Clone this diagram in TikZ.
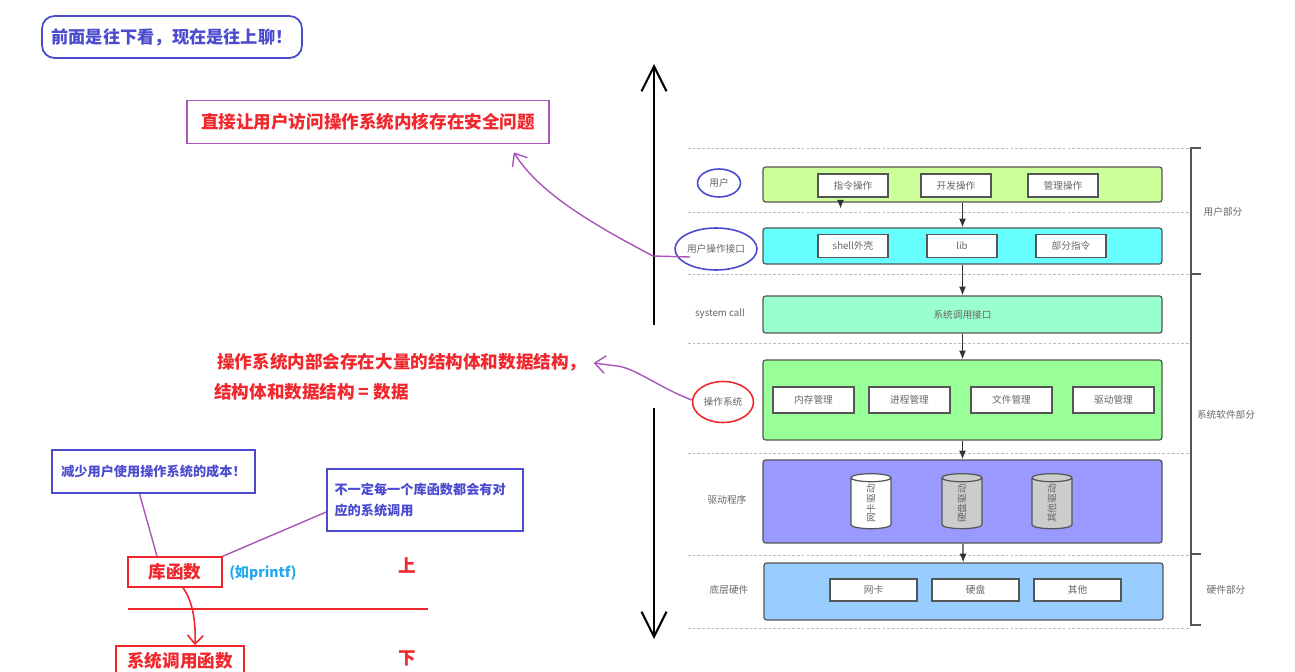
\documentclass[tikz,border=0pt]{standalone}
\usepackage{fontspec}
\setmainfont{Noto Sans CJK SC}
\usetikzlibrary{arrows.meta,shapes.geometric,calc}

\definecolor{capaA}{HTML}{CCFF99}
\definecolor{capaB}{HTML}{66FFFF}
\definecolor{capaC}{HTML}{99FFCC}
\definecolor{capaD}{HTML}{99FF99}
\definecolor{capaE}{HTML}{9999FF}
\definecolor{capaF}{HTML}{99CCFF}
\definecolor{borde}{HTML}{555555}
\definecolor{gris}{HTML}{666666}
\definecolor{azul}{HTML}{4B4BD0}
\definecolor{rojo}{HTML}{F0282D}
\definecolor{lila}{HTML}{AA55BB}
\definecolor{celeste}{HTML}{22A8EE}

\tikzset{
  capa/.style={draw=borde, line width=0.7pt, rounded corners=1.5pt, minimum width=7.98cm, inner sep=0pt, font=\fontsize{5.5}{6}\selectfont, text=gris},
  caja/.style={draw=borde, fill=white, line width=0.7pt, minimum width=1.4cm, minimum height=0.46cm, inner sep=0pt, font=\fontsize{5.5}{6}\selectfont, text=gris},
  lado/.style={font=\fontsize{5.5}{6}\selectfont, text=gris},
  flujo/.style={-{Latex[length=5pt,width=4pt]}, draw=black!80, line width=0.7pt},
  sep/.style={draw=gray!55, dash pattern=on 1.5pt off 1.2pt, line width=0.5pt},
  tambor/.style={cylinder, draw=borde, line width=0.7pt, rotate=90, aspect=0.9, minimum width=0.8cm, minimum height=1.1cm, inner sep=0pt, font=\fontsize{5.5}{6}\selectfont, text=gris},
  nota/.style={font=\fontsize{10}{12}\selectfont\bfseries, text=rojo},
  notaazul/.style={font=\fontsize{7.5}{11.5}\selectfont\bfseries, text=azul, draw=azul, line width=0.9pt, inner sep=0pt},
  lapiz/.style={draw=lila, line width=0.8pt},
  flecha/.style={draw=lila, line width=0.8pt, -{Straight Barb[length=6pt,width=10pt]}},
  grande/.style={draw=black, line width=1.2pt, -{Straight Barb[length=0.5cm,width=0.5cm]}},
  circulo/.style={ellipse, line width=0.9pt, inner sep=0pt, font=\fontsize{5.5}{6}\selectfont, text=gris}
}

\begin{document}
\begin{tikzpicture}[x=0.02cm, y=-0.02cm]
\useasboundingbox (0,0) rectangle (1295,672);

% Caja de arriba
\node[draw=azul, line width=1pt, rounded corners=0.25cm, minimum width=5.2cm, minimum height=0.84cm,
      font=\fontsize{9.8}{12}\selectfont\bfseries, text=azul] (inicio) at (172,37) {前面是往下看，现在是往上聊！};

% Aviso en rojo
\node[draw=lila, line width=1pt, minimum width=7.24cm, minimum height=0.86cm, nota] (aviso) at (368,122) {直接让用户访问操作系统内核存在安全问题};

% Texto de datos
\node[nota, anchor=west, inner sep=0pt] (datosA) at (217,362) {操作系统内部会存在大量的结构体和数据结构，};
\node[nota, anchor=west, inner sep=0pt] (datosB) at (214,392) {结构体和数据结构 = 数据};

% Flecha grande arriba / abajo
\coordinate (arribaA) at (654,325);
\coordinate (arribaB) at (654,64);
\coordinate (abajoA) at (654,408);
\coordinate (abajoB) at (654,639);
\draw[grande] (arribaA) -- (arribaB);
\draw[grande] (abajoA) -- (abajoB);

% Separadores
\foreach \yy in {148,212,274,343,453,555,628}
  \draw[sep] (688,\yy) -- (1190,\yy);

% Llave de la derecha
\draw[draw=borde, line width=0.9pt] (1201,148) -- (1191,148) -- (1191,625) -- (1201,625);
\draw[draw=borde, line width=0.9pt] (1191,274) -- (1201,274);
\draw[draw=borde, line width=0.9pt] (1191,554) -- (1201,554);
\node[lado] (parteU) at (1223,212) {用户部分};
\node[lado] (parteS) at (1226,415) {系统软件部分};
\node[lado] (parteH) at (1226,590) {硬件部分};

% Capas
\node[capa, fill=capaA, minimum height=0.7cm] (L1) at (962.5,184.5) {};
\node[capa, fill=capaB, minimum height=0.72cm] (L2) at (962.5,246) {};
\node[capa, fill=capaC, minimum height=0.74cm] (L3) at (962.5,314.5) {系统调用接口};
\node[capa, fill=capaD, minimum height=1.6cm] (L4) at (962.5,400) {};
\node[capa, fill=capaE, minimum height=1.66cm] (L5) at (962.5,501.5) {};
\node[capa, fill=capaF, minimum height=1.14cm] (L6) at (963.5,591.5) {};

% Cajas internas
\node[caja] (zhiling) at (853,185.5) {指令操作};
\node[caja] (kaifa) at (956,185.5) {开发操作};
\node[caja] (guanli) at (1063,185.5) {管理操作};
\node[caja] (shell) at (853,246) {shell外壳};
\node[caja] (lib) at (962,246) {lib};
\node[caja] (bufen) at (1071,246) {部分指令};
\node[caja, minimum width=1.62cm, minimum height=0.52cm] (neicun) at (813.5,400) {内存管理};
\node[caja, minimum width=1.62cm, minimum height=0.52cm] (jincheng) at (909.5,400) {进程管理};
\node[caja, minimum width=1.62cm, minimum height=0.52cm] (wenjian) at (1011.5,400) {文件管理};
\node[caja, minimum width=1.62cm, minimum height=0.52cm] (qudong) at (1113.5,400) {驱动管理};
\node[caja, minimum width=1.74cm, minimum height=0.44cm] (wangka) at (873.5,590) {网卡};
\node[caja, minimum width=1.74cm, minimum height=0.44cm] (yingpan) at (975.5,590) {硬盘};
\node[caja, minimum width=1.74cm, minimum height=0.44cm] (qita) at (1077.5,590) {其他};

% Cilindros
\node[tambor, fill=white] (cilA) at (871,503.5) {网卡驱动};
\node[tambor, fill=gray!40] (cilB) at (962,503.5) {硬盘驱动};
\node[tambor, fill=gray!40] (cilC) at (1052,503.5) {其他驱动};

% Flechas entre capas
\draw[flujo] (L1) -- (L2);
\draw[flujo] (L2) -- (L3);
\draw[flujo] (L3) -- (L4);
\draw[flujo] (L4) -- (L5);
\draw[flujo] (L5) -- (L6);
\draw[flujo] ($(L1.south)+(-122,0)$) -- ++(0,6);

% Etiquetas de la izquierda
\node[circulo, draw=azul, minimum width=0.86cm, minimum height=0.56cm] (c1) at (719,183) {用户};
\node[circulo, draw=azul, minimum width=1.5cm, minimum height=0.84cm] (c2) at (716,249) {用户操作接口};
\node[lado] (sc) at (720,314) {system call};
\node[circulo, draw=rojo, minimum width=1.22cm, minimum height=0.82cm] (c4) at (723,402) {操作系统};
\node[lado] (qdcx) at (727,500) {驱动程序};
\node[lado] (dcyj) at (729,590) {底层硬件};

% Flechas de lapiz
\draw[flecha] ($(c2.west)+(16,8)$) -- (653,256) .. controls (600,228) and (540,195) .. ($(aviso.south east)+(-36,8)$);
\draw[flecha] ($(c4.west)+(0,-2)$) .. controls (660,388) and (635,368) .. (617,366) -- ($(datosA.east)+(7,1)$);

% Parte de abajo
\node[notaazul, minimum width=4.06cm, minimum height=0.86cm] (coste) at (153.5,471.5) {减少用户使用操作系统的成本！};
\node[notaazul, minimum width=3.92cm, minimum height=1.24cm, text width=3.62cm, align=left] (nocall) at (425,500) {不一定每一个库函数都会有对\\应的系统调用};
\node[draw=rojo, line width=0.9pt, minimum width=1.88cm, minimum height=0.6cm, nota] (libf) at (175,572) {库函数};
\node[font=\fontsize{8}{10}\selectfont\bfseries, text=celeste, anchor=west, inner sep=0pt] (printf) at (229,573) {(如printf)};
\node[draw=rojo, line width=0.9pt, minimum width=2.56cm, minimum height=0.6cm, nota] (sysf) at (180,661) {系统调用函数};
\node[nota] (shang) at (407,565) {上};
\node[nota] (xia) at (407,658) {下};
\draw[draw=rojo, line width=0.9pt] (128,609) -- (428,609);

\draw[lapiz] ($(coste.south)+(-14,0)$) -- ($(libf.north)+(-18,0)$);
\draw[lapiz] (libf.north east) -- ($(nocall.west)+(0,12)$);
\draw[draw=rojo, line width=0.9pt, -{Straight Barb[length=5pt,width=9pt]}] ($(libf.south)+(8,0)$) .. controls (192,600) and (196,620) .. ($(sysf.north)+(15,0)$);
\end{tikzpicture}
\end{document}
